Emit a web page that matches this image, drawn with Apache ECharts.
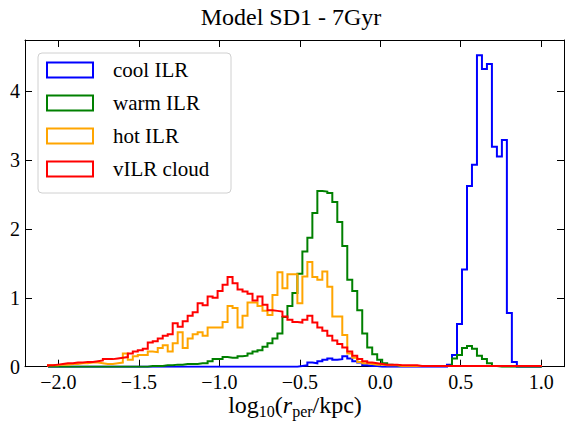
<!DOCTYPE html>
<html><head><meta charset="utf-8">
<script src="https://cdn.jsdelivr.net/npm/echarts@6/dist/echarts.min.js"></script>
<style>html,body{margin:0;padding:0;background:#fff}#c{width:574px;height:422px}</style>
</head><body><div id="c"></div>
<script>
// Histogram bins (common to all series)
const binStart = -2.065;
const binWidth = 0.031;

const seriesNames = ['cool ILR', 'warm ILR', 'hot ILR', 'vILR cloud'];
const seriesColors = ['#0000ff', '#008000', '#ffa500', '#ff0000'];

const coolILR = [
0,0,0,0,0,0,0,0,0,0,
0,0,0,0,0,0,0,0,0,0,
0,0,0,0,0,0,0,0,0,0,
0,0,0,0,0,0,0,0,0,0,
0,0,0,0,0,0,0,0,0,0,
0.01,0.02,0.06,0.05,0.08,0.10,0.12,0.10,0.11,0.15,
0.12,0.08,0.06,0.02,0.01,0.01,0,0,0,0,
0,0,0,0,0,0,0,0,0,0,
0.03,0.17,0.62,1.41,2.62,2.93,4.52,4.32,4.39,3.19,
3.05,3.29,0.78,0.07,0,0,0,0,0
];

const warmILR = [
0,0,0,0,0,0,0,0,0,0,
0,0,0,0,0,0,0,0,0,0,
0.01,0.01,0.01,0.02,0.02,0.03,0.03,0.04,0.04,0.04,
0.05,0.05,0.08,0.11,0.11,0.14,0.13,0.13,0.15,0.16,
0.19,0.22,0.24,0.29,0.34,0.41,0.48,0.72,0.88,1.07,
1.35,1.67,1.87,2.23,2.55,2.54,2.52,2.39,2.10,1.75,
1.26,1.10,0.82,0.48,0.28,0.18,0.10,0.05,0.03,0.02,
0.01,0.01,0.01,0.01,0.01,0.01,0.01,0.01,0.01,0.01,
0.02,0.12,0.17,0.27,0.30,0.26,0.16,0.11,0.05,0.01,
0,0,0,0,0,0,0,0,0
];

const hotILR = [
0.02,0.02,0.03,0.03,0.04,0.04,0.05,0.05,0.06,0.06,
0.05,0.04,0.04,0.05,0.06,0.19,0.10,0.15,0.17,0.17,
0.22,0.21,0.27,0.31,0.22,0.34,0.50,0.27,0.41,0.47,
0.50,0.45,0.57,0.57,0.57,0.65,0.88,0.85,0.57,0.74,
0.93,0.93,0.88,0.81,0.75,1.04,1.37,1.14,1.34,1.34,
0.92,1.31,1.52,1.30,1.26,1.38,1.16,0.73,0.73,0.46,
0.19,0.13,0.07,0.05,0.04,0.03,0.03,0.02,0.02,0.02,
0.01,0.01,0.01,0.01,0.01,0.01,0.01,0.01,0.01,0.01,
0.01,0.01,0.01,0.01,0.01,0.01,0.01,0.01,0.01,0.01,
0.01,0.01,0.01,0.01,0.01,0.01,0.01,0.01,0.01
];

const vILRcloud = [
0.02,0.03,0.04,0.05,0.05,0.06,0.06,0.07,0.07,0.08,
0.09,0.11,0.11,0.12,0.13,0.14,0.19,0.22,0.24,0.26,
0.35,0.37,0.41,0.45,0.47,0.63,0.58,0.66,0.74,0.79,
0.92,0.89,1.02,1.00,1.10,1.19,1.30,1.21,1.12,1.09,
1.06,0.96,1.02,0.90,0.82,0.81,0.80,0.73,0.68,0.65,
0.64,0.68,0.74,0.64,0.57,0.52,0.45,0.38,0.33,0.28,
0.22,0.16,0.11,0.08,0.06,0.05,0.04,0.03,0.03,0.03,
0.02,0.02,0.02,0.02,0.01,0.01,0.01,0.01,0.01,0.01,
0.01,0.01,0.01,0.01,0.01,0.01,0.01,0.01,0.01,0.01,
0.01,0.01,0.01,0.01,0.01,0.01,0.01,0.01,0.01
];

const xTicks = [-2.0, -1.5, -1.0, -0.5, 0.0, 0.5, 1.0];
const yTicks = [0, 1, 2, 3, 4];
const titleText = 'Model SD1 - 7Gyr';

const FONT = '"Liberation Serif", "Times New Roman", "DejaVu Serif", serif';

function stepData(vals) {
  const pts = [[binStart, 0]];
  vals.forEach((v, i) => pts.push([binStart + i * binWidth, v]));
  const end = binStart + vals.length * binWidth;
  pts.push([end, vals[vals.length - 1]]);
  pts.push([end, 0]);
  return pts;
}
const allVals = [coolILR, warmILR, hotILR, vILRcloud];

const chart = echarts.init(document.getElementById('c'), null, {renderer: 'svg'});
const xMin = -2.208, xMax = 1.142, yMin = 0, yMax = 4.74;
const axisCommon = {
  axisLine: {show: true, onZero: false, lineStyle: {color: '#000', width: 1}},
  axisTick: {show: true, inside: true, length: 7, lineStyle: {color: '#000', width: 1}},
  splitLine: {show: false}
};
const ring = 'path://M0,0H48V17H0Z M2,2V15H46V2Z';

chart.setOption({
  animation: false,
  backgroundColor: '#fff',
  grid: {left: 25, right: 10, top: 40, bottom: 55.3, containLabel: false},
  xAxis: [
    Object.assign({}, axisCommon, {
      type: 'value', position: 'bottom', min: xMin, max: xMax,
      axisTick: Object.assign({}, axisCommon.axisTick, {customValues: xTicks}),
      axisLabel: {customValues: xTicks, margin: 5, color: '#000', fontSize: 20, fontFamily: FONT,
        formatter: v => (v < 0 ? '\u2212' : '') + Math.abs(v).toFixed(1)}
    }),
    Object.assign({}, axisCommon, {
      type: 'value', position: 'top', min: xMin, max: xMax,
      axisTick: Object.assign({}, axisCommon.axisTick, {customValues: xTicks}),
      axisLabel: {show: false}
    })
  ],
  yAxis: [
    Object.assign({}, axisCommon, {
      type: 'value', position: 'left', min: yMin, max: yMax,
      axisTick: Object.assign({}, axisCommon.axisTick, {customValues: yTicks}),
      axisLabel: {customValues: yTicks, margin: 5, color: '#000', fontSize: 20, fontFamily: FONT,
        formatter: v => String(v)}
    }),
    Object.assign({}, axisCommon, {
      type: 'value', position: 'right', min: yMin, max: yMax,
      axisTick: Object.assign({}, axisCommon.axisTick, {customValues: yTicks}),
      axisLabel: {show: false}
    })
  ],
  legend: {
    orient: 'vertical', left: 46, top: 56.5, padding: 0,
    itemWidth: 48, itemHeight: 17, itemGap: 6, icon: ring,
    selectedMode: false, z: 20,
    textStyle: {fontSize: 21, fontFamily: FONT, color: '#000', lineHeight: 24, padding: [3, 0, 0, 14]},
    data: seriesNames
  },
  graphic: [
    {type: 'rect', left: 37.5, top: 52.5, z: 10,
      shape: {width: 193, height: 140, r: 4},
      style: {fill: 'rgba(255,255,255,0.8)', stroke: '#d0d0d0', lineWidth: 1}},
    {type: 'text', x: 291, y: 17, z: 10,
      style: {text: titleText, fontSize: 24, fontFamily: FONT, fill: '#000', textAlign: 'center', textVerticalAlign: 'middle'}},
    {type: 'text', x: 295, y: 405, z: 10,
      style: {
        text: '{n|log}{s|10}{n|(}{i|r}{s|per}{n|/kpc)}',
        textAlign: 'center', textVerticalAlign: 'middle', fill: '#000',
        rich: {
          n: {fontSize: 24, fontFamily: FONT, lineHeight: 28, fill: '#000'},
          i: {fontSize: 24, fontFamily: FONT, fontStyle: 'italic', lineHeight: 28, fill: '#000'},
          s: {fontSize: 16, fontFamily: FONT, lineHeight: 16, padding: [12, 0, 0, 0], fill: '#000'}
        }
      }}
  ],
  series: seriesNames.map((name, k) => ({
    name: name, type: 'line', step: 'end', showSymbol: false, symbol: 'none',
    xAxisIndex: 0, yAxisIndex: 0,
    data: stepData(allVals[k]),
    lineStyle: {color: seriesColors[k], width: 2, join: 'miter'},
    itemStyle: {color: seriesColors[k]},
    z: 2 + k, silent: true
  }))
});
</script></body></html>
